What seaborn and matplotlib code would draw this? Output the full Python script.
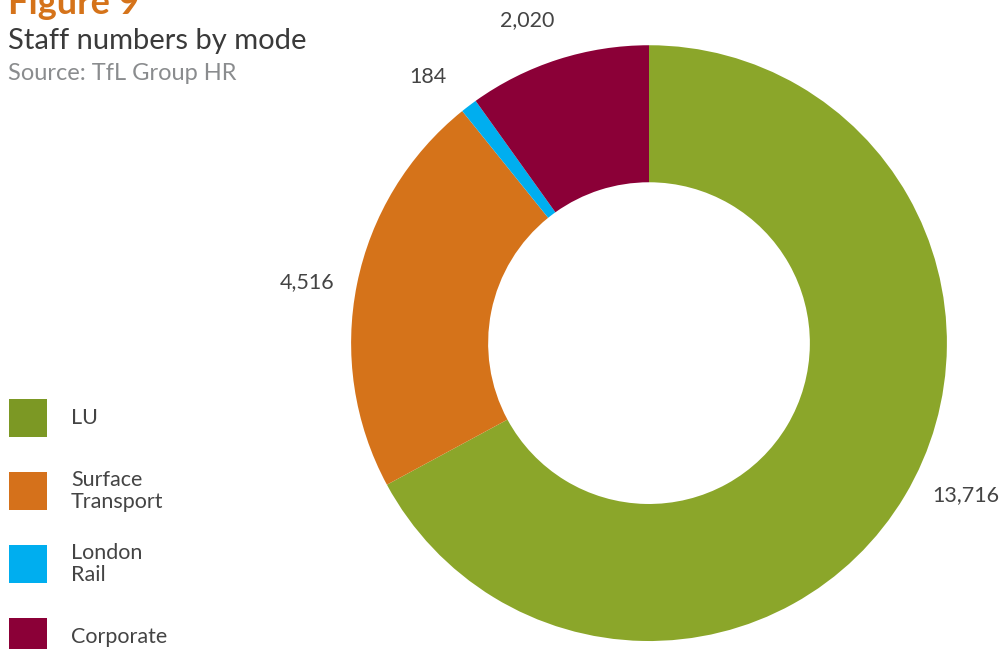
import matplotlib
matplotlib.use("Agg")
import matplotlib.pyplot as plt
import seaborn as sns
from matplotlib.patches import Rectangle

sns.set_style("white")
plt.rcParams['font.family'] = ['Lato', 'DejaVu Sans']

# data
modes = ['LU', 'Surface\nTransport', 'London\nRail', 'Corporate']
staff = [13716, 4516, 184, 2020]
value_labels = ['13,716', '4,516', '184', '2,020']
wedge_colors = ['#8BA62A', '#D5731A', '#00AEEF', '#8B0037']
legend_colors = ['#7C9824', '#D5711B', '#00AEEF', '#8B0037']
# where each value label sits (data units, pie radius = 1)
label_pos = [(1.065, -0.51), (-1.148, 0.205), (-0.742, 0.893), (-0.409, 1.084)]

text_dark = '#444444'

fig = plt.figure(figsize=(10, 6.49), dpi=100)
ax = fig.add_axes([0.351, 0.0123, 0.596, 0.918])

wedges, texts = ax.pie(staff, colors=wedge_colors,
                       startangle=90, counterclock=False,
                       wedgeprops=dict(width=0.46, linewidth=0))
for lab, (x, y) in zip(value_labels, label_pos):
    ax.text(x, y, lab, ha='center', va='center', fontsize=15.5, color=text_dark)
ax.set_xlim(-1, 1)
ax.set_ylim(-1, 1)
ax.set_aspect('equal')
ax.axis('off')

# titles
fig.text(0.008, 0.978, 'Figure 9', fontsize=26, fontweight='bold',
         color='#D5731A', va='baseline')
fig.text(0.008, 0.937, 'Staff numbers by mode', fontsize=21,
         color='#3a3a3a', va='center')
fig.text(0.008, 0.886, 'Source: TfL Group HR', fontsize=17,
         color='#8a8c8e', va='center')

# legend
sq_w = 38 / 1000
sq_h = 38 / 649
for i, (name, col) in enumerate(zip(modes, legend_colors)):
    cy = (649 - (418 + 73 * i)) / 649
    fig.patches.append(Rectangle((0.009, cy - sq_h / 2), sq_w, sq_h,
                                 facecolor=col, edgecolor='none',
                                 transform=fig.transFigure, figure=fig))
    fig.text(0.071, cy, name, fontsize=15.5, color=text_dark, va='center',
             ha='left', linespacing=1.1)

fig.savefig('out.png', dpi=100)
